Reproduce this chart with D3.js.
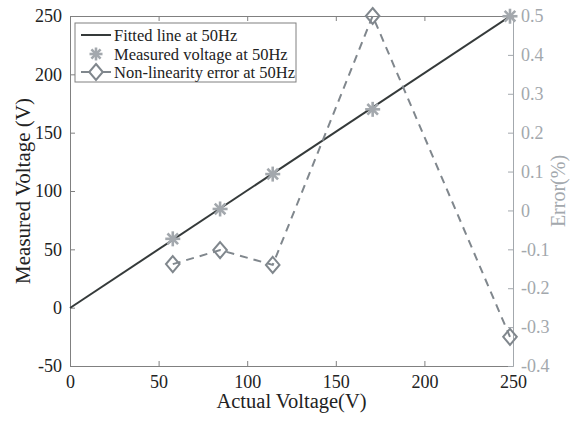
<!DOCTYPE html>
<html>
<head>
<meta charset="utf-8">
<script src="https://cdn.jsdelivr.net/npm/d3@7"></script>
<style>
  body { margin: 0; background: #fff; }
  svg { display: block; font-family: "Liberation Serif", "DejaVu Serif", serif; }
</style>
</head>
<body>
<div id="chart"></div>
<script>
// measured points (actual V -> measured V)
const actualV = [58, 84.7, 114.4, 170.8, 248.3];
const measuredV = [59, 84.6, 114.5, 170, 249.8];
// non-linearity error (%)
const errorPct = [-0.138, -0.102, -0.14, 0.5, -0.325];
// fitted line ends
const fitX = [0, 248.3];
const fitY = [-0.3, 249.8];

const xTicks = [0, 50, 100, 150, 200, 250];
const yTicks = [-50, 0, 50, 100, 150, 200, 250];
const errTicks = [-0.4, -0.3, -0.2, -0.1, 0, 0.1, 0.2, 0.3, 0.4, 0.5];
const legendLabels = ['Fitted line at 50Hz', 'Measured voltage at 50Hz', 'Non-linearity error at 50Hz'];

const width = 574, height = 426;
const margin = { top: 16, right: 61, bottom: 60, left: 70 };
const axisCol = '#808080', textCol = '#222', lineCol = '#353a3a';
const starCol = '#a3a8ad', errCol = '#80878d', rightCol = '#a3a8ad';

const svg = d3.select('#chart').append('svg')
    .attr('width', width).attr('height', height);

const x = d3.scaleLinear().domain([0, 250]).range([margin.left, width - margin.right]);
const y = d3.scaleLinear().domain([-50, 250]).range([height - margin.bottom, margin.top]);
const yErr = d3.scaleLinear().domain([-0.4, 0.5]).range([height - margin.bottom, margin.top]);

// plain hyphen for negatives, like the original
const fmtInt = d => String(d);
const fmtErr = d => d === 0 ? '0' : d.toFixed(1);

// bottom axis
const gx = svg.append('g').attr('transform', `translate(0,${y(-50)})`)
    .call(d3.axisBottom(x).tickValues(xTicks).tickSizeInner(-5).tickSizeOuter(0).tickPadding(9).tickFormat(fmtInt));
// top border ticks
const gt = svg.append('g').attr('transform', `translate(0,${y(250)})`)
    .call(d3.axisTop(x).tickValues(xTicks).tickSizeInner(-5).tickSizeOuter(0).tickFormat(''));
// left axis
const gy = svg.append('g').attr('transform', `translate(${x(0)},0)`)
    .call(d3.axisLeft(y).tickValues(yTicks).tickSizeInner(-5).tickSizeOuter(0).tickPadding(8).tickFormat(fmtInt));
// right axis
const gr = svg.append('g').attr('transform', `translate(${x(250)},0)`)
    .call(d3.axisRight(yErr).tickValues(errTicks).tickSizeInner(-5).tickSizeOuter(0).tickPadding(8).tickFormat(fmtErr));

[gx, gt, gy].forEach(g => {
    g.select('.domain').attr('stroke', axisCol).attr('stroke-width', 1);
    g.selectAll('.tick line').attr('stroke', axisCol);
    g.selectAll('.tick text').attr('fill', textCol).style('font-size', '18px').style('font-family', 'Liberation Serif');
});
gr.select('.domain').attr('stroke', rightCol).attr('stroke-width', 1);
gr.selectAll('.tick line').attr('stroke', rightCol);
gr.selectAll('.tick text').attr('fill', rightCol).style('font-size', '18px').style('font-family', 'Liberation Serif');

// axis titles
svg.append('text').attr('x', x(125)).attr('y', 408).attr('text-anchor', 'middle')
    .attr('fill', textCol).style('font-size', '20.5px').text('Actual Voltage(V)');
svg.append('text').attr('transform', `translate(30,${y(100)}) rotate(-90)`).attr('text-anchor', 'middle')
    .attr('fill', textCol).style('font-size', '21px').text('Measured Voltage (V)');
svg.append('text').attr('transform', `translate(565,${yErr(0.05)}) rotate(-90)`).attr('text-anchor', 'middle')
    .attr('fill', rightCol).style('font-size', '20px').text('Error(%)');

// fitted line
svg.append('line')
    .attr('x1', x(fitX[0])).attr('y1', y(fitY[0]))
    .attr('x2', x(fitX[1])).attr('y2', y(fitY[1]))
    .attr('stroke', lineCol).attr('stroke-width', 2);

// error dashed line
const errLine = d3.line().x((d, i) => x(actualV[i])).y(d => yErr(d));
svg.append('path').datum(errorPct)
    .attr('d', errLine).attr('fill', 'none')
    .attr('stroke', errCol).attr('stroke-width', 2).attr('stroke-dasharray', '8,6');

// diamond markers
const diamond = (cx, cy, r) => `M${cx},${cy - r}L${cx + r * 0.85},${cy}L${cx},${cy + r}L${cx - r * 0.85},${cy}Z`;
svg.selectAll('.dia').data(errorPct).enter().append('path')
    .attr('class', 'dia')
    .attr('d', (d, i) => diamond(x(actualV[i]), yErr(d), 8))
    .attr('fill', 'none').attr('stroke', errCol).attr('stroke-width', 2);

// star markers
function star(g, cx, cy, r) {
    const s = g.append('g').attr('transform', `translate(${cx},${cy})`)
        .attr('stroke', starCol).attr('stroke-width', 2.6).attr('stroke-linecap', 'butt');
    [0, 45, 90, 135].forEach(a => {
        const rad = a * Math.PI / 180;
        s.append('line')
            .attr('x1', -r * Math.cos(rad)).attr('y1', -r * Math.sin(rad))
            .attr('x2', r * Math.cos(rad)).attr('y2', r * Math.sin(rad));
    });
}
const stars = svg.append('g');
actualV.forEach((v, i) => star(stars, x(v), y(measuredV[i]), 7.5));

// legend
const lg = svg.append('g');
lg.append('rect').attr('x', 75).attr('y', 23).attr('width', 221).attr('height', 59)
    .attr('fill', '#fff').attr('stroke', axisCol).attr('stroke-width', 1);
const rowY = [35, 54, 72];
legendLabels.forEach((t, i) => {
    lg.append('text').attr('x', 114).attr('y', rowY[i]).attr('dy', '0.35em')
        .attr('fill', textCol).style('font-size', '16.5px').text(t);
});
lg.append('line').attr('x1', 81).attr('x2', 111).attr('y1', rowY[0]).attr('y2', rowY[0])
    .attr('stroke', lineCol).attr('stroke-width', 2);
star(lg, 96, rowY[1], 6.5);
lg.append('line').attr('x1', 81).attr('x2', 111).attr('y1', rowY[2]).attr('y2', rowY[2])
    .attr('stroke', errCol).attr('stroke-width', 2);
lg.append('path').attr('d', diamond(96, rowY[2], 8)).attr('fill', '#fff')
    .attr('stroke', errCol).attr('stroke-width', 2);
</script>
</body>
</html>
